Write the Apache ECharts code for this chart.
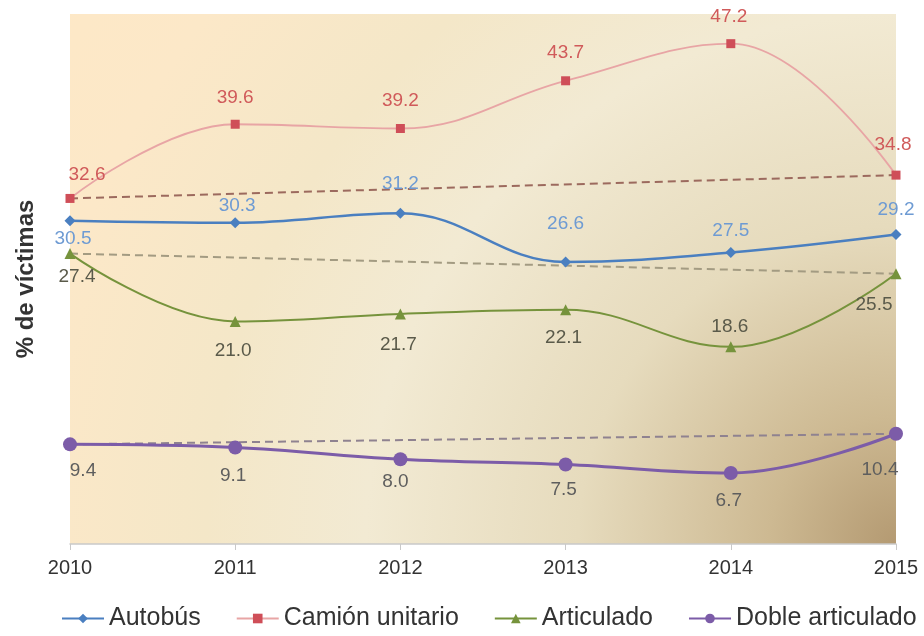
<!DOCTYPE html>
<html>
<head>
<meta charset="utf-8">
<script src="https://cdn.jsdelivr.net/npm/echarts@6/dist/echarts.min.js"></script>
<style>
  html, body { margin: 0; padding: 0; background: #fff; }
  #main { width: 924px; height: 636px; }
</style>
</head>
<body>
<div id="main"></div>
<script>
var years = ["2010", "2011", "2012", "2013", "2014", "2015"];
var autobus = [30.5, 30.3, 31.2, 26.6, 27.5, 29.2];
var camion = [32.6, 39.6, 39.2, 43.7, 47.2, 34.8];
var articulado = [27.4, 21.0, 21.7, 22.1, 18.6, 25.5];
var doble = [9.4, 9.1, 8.0, 7.5, 6.7, 10.4];

var chartDom = document.getElementById("main");
var myChart = echarts.init(chartDom, null, { renderer: "canvas" });
var font = "Liberation Sans, Arial, sans-serif";

// trend line: only first and last year, joined across the gap
function ends(arr) {
  return arr.map(function (v, i) { return (i === 0 || i === arr.length - 1) ? v : null; });
}

// label centred on the point, moved by an offset
function withLabels(arr, offs) {
  return arr.map(function (v, i) {
    return { value: v, label: { offset: offs[i] } };
  });
}

function oneDecimal(p) { return Number(p.value).toFixed(1); }

function trend(arr, color) {
  return {
    type: "line",
    data: ends(arr),
    connectNulls: true,
    symbol: "none",
    silent: true,
    z: 1,
    lineStyle: { color: color, width: 2, type: [8, 5] },
    label: { show: false },
    tooltip: { show: false }
  };
}

var option = {
  backgroundColor: "#ffffff",
  textStyle: { fontFamily: font },
  grid: {
    left: 70, right: 28, top: 14, bottom: 92,
    outerBoundsMode: "none",
    show: true,
    borderWidth: 0,
    backgroundColor: new echarts.graphic.RadialGradient(1, 1, 2, [
      { offset: 0, color: "#b49a72" },
      { offset: 0.12, color: "#cdb992" },
      { offset: 0.3, color: "#e6dbbd" },
      { offset: 0.5, color: "#f2ead3" },
      { offset: 0.65, color: "#f4e7c8" },
      { offset: 0.82, color: "#fce8c8" },
      { offset: 1, color: "#fee8c6" }
    ])
  },
  legend: {
    bottom: 0,
    left: 56,
    itemWidth: 42,
    itemHeight: 12,
    itemGap: 35,
    textStyle: { fontSize: 25, color: "#333", fontFamily: font },
    data: ["Autobús", "Camión unitario", "Articulado", "Doble articulado"]
  },
  xAxis: {
    type: "category",
    data: years,
    boundaryGap: false,
    axisLine: { lineStyle: { color: "#c9c9c9", width: 1.5 } },
    axisTick: { show: true, length: 6, lineStyle: { color: "#c9c9c9" } },
    axisLabel: { fontSize: 20, color: "#333", margin: 14, fontFamily: font }
  },
  yAxis: {
    type: "value",
    min: 0,
    max: 50,
    name: "% de víctimas",
    nameLocation: "middle",
    nameGap: 32,
    nameTextStyle: { fontSize: 24, fontWeight: "bold", color: "#333", fontFamily: font },
    axisLine: { show: false },
    axisTick: { show: false },
    axisLabel: { show: false },
    splitLine: { show: false }
  },
  series: [
    trend(camion, "#9c6a5e"),
    trend(articulado, "#a39b82"),
    trend(doble, "#8f8290"),
    {
      name: "Autobús",
      type: "line",
      smooth: 0.4,
      z: 3,
      data: withLabels(autobus, [[3, 18], [2, -17], [0, -30], [0, -38], [0, -22], [0, -25]]),
      symbol: "diamond",
      symbolSize: 11,
      itemStyle: { color: "#4a7fc0" },
      lineStyle: { color: "#4a7fc0", width: 2.5 },
      label: { show: true, position: "inside", color: "#6e9bd3", fontSize: 19, fontFamily: font, formatter: oneDecimal }
    },
    {
      name: "Camión unitario",
      type: "line",
      smooth: 0.4,
      z: 3,
      data: withLabels(camion, [[17, -24], [0, -26], [0, -28], [0, -28], [-2, -27], [-3, -30]]),
      symbol: "rect",
      symbolSize: 9,
      itemStyle: { color: "#cf4e58" },
      lineStyle: { color: "#e8a5a5", width: 1.8 },
      label: { show: true, position: "inside", color: "#d05a5a", fontSize: 19, fontFamily: font, formatter: oneDecimal }
    },
    {
      name: "Articulado",
      type: "line",
      smooth: 0.4,
      z: 3,
      data: withLabels(articulado, [[7, 23], [-2, 29], [-2, 31], [-2, 28], [-1, -20], [-22, 31]]),
      symbol: "triangle",
      symbolSize: 11,
      itemStyle: { color: "#76933c" },
      lineStyle: { color: "#76933c", width: 2 },
      label: { show: true, position: "inside", color: "#5a5a4a", fontSize: 19, fontFamily: font, formatter: oneDecimal }
    },
    {
      name: "Doble articulado",
      type: "line",
      smooth: 0.4,
      z: 3,
      data: withLabels(doble, [[13, 26], [-2, 28], [-5, 23], [-2, 25], [-2, 28], [-16, 36]]),
      symbol: "circle",
      symbolSize: 14,
      itemStyle: { color: "#7c5ca8" },
      lineStyle: { color: "#7c5ca8", width: 3 },
      label: { show: true, position: "inside", color: "#5e5e5e", fontSize: 19, fontFamily: font, formatter: oneDecimal }
    }
  ]
};

option && myChart.setOption(option);
</script>
</body>
</html>
